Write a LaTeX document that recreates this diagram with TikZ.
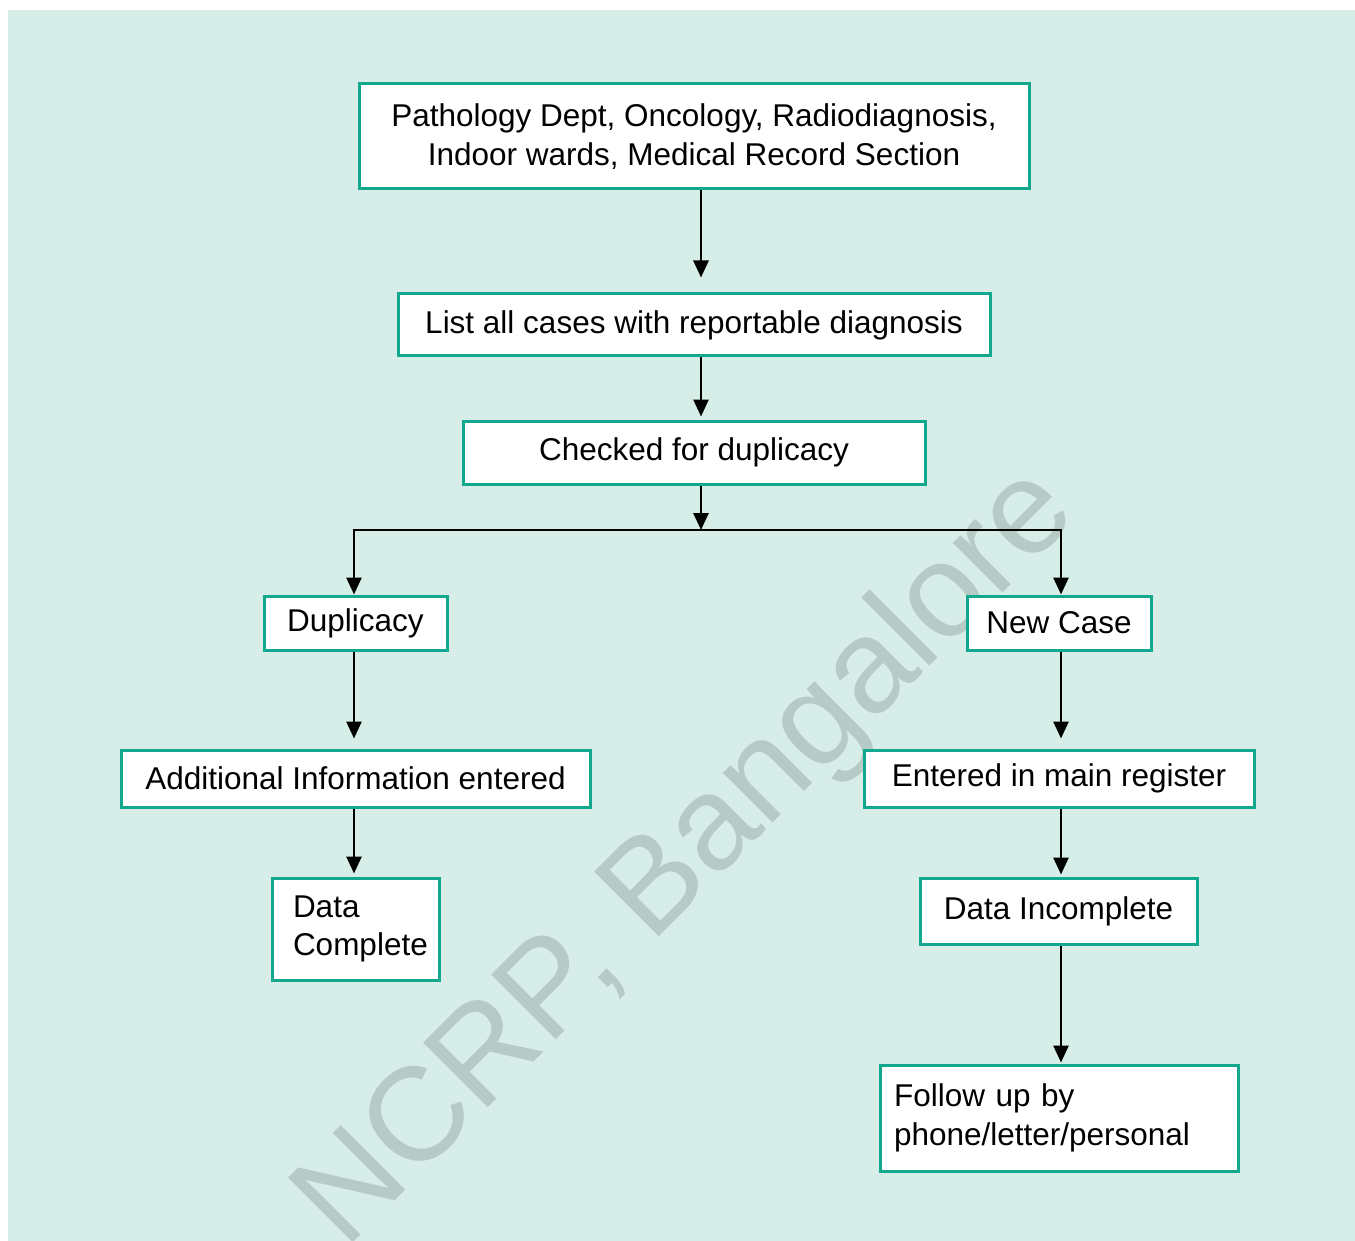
\documentclass[tikz,border=0pt]{standalone}
\usepackage{fontspec}
\setmainfont{Liberation Sans}
\usetikzlibrary{arrows.meta,calc}
\definecolor{bgc}{HTML}{D7EDE7}
\definecolor{tealc}{RGB}{18,168,142}
\definecolor{wmc}{HTML}{B7CBC6}
\begin{document}
\begin{tikzpicture}[x=1pt,y=-1pt,
  box/.style={draw=tealc,line width=3pt,fill=white,inner sep=0pt,
    font=\fontsize{31.5}{38.5}\selectfont,align=center},
  conn/.style={line width=2.7pt,-{Triangle[length=17pt,width=15pt]}},
  plain/.style={line width=2.7pt}]
\useasboundingbox (0,0) rectangle (1355,1241);
\fill[white] (0,0) rectangle (1355,1241);
\fill[bgc] (8,10) rectangle (1355,1241);
\begin{scope}
\clip (8,10) rectangle (1355,1241);
\node[wmc,rotate=45,anchor=base west,inner sep=0pt,font=\fontsize{133}{133}\selectfont] (wm) at (345,1251) {NCRP, Bangalore};
\end{scope}

\node[box,minimum width=670pt,minimum height=105pt] (top) at (694,136.5)
  {Pathology Dept, Oncology, Radiodiagnosis,\\Indoor wards, Medical Record Section};
\node[box,minimum width=592pt,minimum height=62pt] (list) at (694,325)
  {List all cases with reportable diagnosis};
\node[box,minimum width=462pt,minimum height=63pt] (chk) at (694,452.5)
  {Checked for duplicacy};
\node[box,minimum width=183pt,minimum height=54pt] (dup) at (355.5,623)
  {Duplicacy};
\node[box,minimum width=184pt,minimum height=54pt] (new) at (1059,623)
  {New Case};
\node[box,minimum width=469pt,minimum height=57pt] (add) at (355.5,778.5)
  {Additional Information entered};
\node[box,minimum width=390pt,minimum height=57pt] (ent) at (1059,778.5)
  {Entered in main register};
\node[box,minimum width=167pt,minimum height=102pt,align=left,text width=145pt] (dc) at (355.5,929)
  {\hspace*{10pt}Data\\\hspace*{10pt}Complete};
\node[box,minimum width=358pt,minimum height=106pt,align=left,text width=330pt] (fol) at (1059,1118)
  {Follow up by\\phone/letter/personal};
\node[box,minimum width=277pt,minimum height=66pt] (inc) at (1058.5,911)
  {Data Incomplete};

\coordinate (cx) at (701,0);
\coordinate (lx) at (354,0);
\coordinate (rx) at (1061,0);
\coordinate (br) at (701,530);
\coordinate (brl) at (354,530);
\coordinate (brr) at (1061,530);

\draw[conn] (top.south -| cx) -- ([yshift=15pt]list.north -| cx);
\draw[conn] (list.south -| cx) -- ([yshift=3pt]chk.north -| cx);
\draw[conn] (chk.south -| cx) -- (br);
\draw[plain] (brl) -- (brr);
\draw[conn] ([xshift=-1.35pt]brl) -| (dup.north -| lx);
\draw[conn] ([xshift=1.35pt]brr) -| (new.north -| rx);
\draw[conn] (dup.south -| lx) -- ([yshift=10pt]add.north -| lx);
\draw[conn] (add.south -| lx) -- ([yshift=3pt]dc.north -| lx);
\draw[conn] (new.south -| rx) -- ([yshift=10pt]ent.north -| rx);
\draw[conn] (ent.south -| rx) -- ([yshift=2pt]inc.north -| rx);
\draw[conn] (inc.south -| rx) -- ([yshift=1pt]fol.north -| rx);
\end{tikzpicture}
\end{document}
